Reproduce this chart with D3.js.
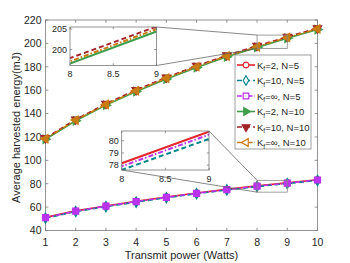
<!DOCTYPE html>
<html>
<head>
<meta charset="utf-8">
<script src="https://cdn.jsdelivr.net/npm/d3@7"></script>
<style>
  body { margin: 0; background: #fff; }
  text { font-family: "Liberation Sans", Arial, sans-serif; fill: #262626; }
</style>
</head>
<body>
<div id="chart"></div>
<script>
// data
var power = [1, 2, 3, 4, 5, 6, 7, 8, 9, 10];
var kf2_n5   = [51.2, 56.8, 61.0, 64.9, 68.6, 72.0, 75.2, 78.15, 80.75, 83.4];
var kf10_n5  = [50.6, 56.2, 60.4, 64.3, 68.0, 71.5, 74.7, 77.6, 80.15, 82.8];
var kfinf_n5 = [51.0, 56.6, 60.8, 64.7, 68.4, 71.8, 75.0, 77.9, 80.5, 83.2];
var kf2_n10   = [118.0, 133.8, 147.2, 158.9, 169.5, 179.4, 188.5, 196.6, 204.4, 211.8];
var kf10_n10  = [119.0, 135.0, 148.4, 160.2, 170.9, 180.8, 189.8, 197.9, 205.6, 213.0];
var kfinf_n10 = [118.5, 134.4, 147.8, 159.5, 170.2, 180.1, 189.2, 197.1, 205.0, 212.4];
var xTicks = [1, 2, 3, 4, 5, 6, 7, 8, 9, 10];
var yTicks = [40, 60, 80, 100, 120, 140, 160, 180, 200, 220];

var series = [
  {sub: "f", label: "=2, N=5",    values: kf2_n5,    color: "#e3262b", dash: null,        sym: d3.symbolCircle,   rot: 0,   size: 30, fill: true},
  {sub: "f", label: "=10, N=5",   values: kf10_n5,   color: "#00868a", dash: "5,3",       sym: d3.symbolDiamond,  rot: 0,   size: 30, fill: true},
  {sub: "f", label: "=\u221e, N=5", values: kfinf_n5, color: "#bb33ee", dash: "5,2,1.5,2", sym: d3.symbolSquare,   rot: 0,   size: 36, fill: true},
  {sub: "f", label: "=2, N=10",   values: kf2_n10,   color: "#3f9e4b", dash: null,        sym: d3.symbolTriangle, rot: 90,  size: 30, fill: true},
  {sub: "f", label: "=10, N=10",  values: kf10_n10,  color: "#a3232b", dash: "5,3",       sym: d3.symbolTriangle, rot: 180, size: 30, fill: true},
  {sub: "f", label: "=\u221e, N=10", values: kfinf_n10, color: "#c97c12", dash: "5,2,1.5,2", sym: d3.symbolTriangle, rot: -90, size: 30, fill: true}
];

var width = 350, height = 263;
var svg = d3.select("#chart").append("svg")
  .attr("width", width)
  .attr("height", height);

var x = d3.scaleLinear().domain([1, 10]).range([45.5, 317.5]);
var y = d3.scaleLinear().domain([40, 220]).range([230.5, 20]);

var boxColor = "#7a7a7a";

// axes box
svg.append("rect")
  .attr("x", x(1)).attr("y", y(220))
  .attr("width", x(10) - x(1)).attr("height", y(40) - y(220))
  .attr("fill", "none").attr("stroke", boxColor).attr("stroke-width", 0.8);

// ticks (inside, on all four sides)
function drawTicks(g, xs, ys, xt, yt, len) {
  var x0 = xs.range()[0], x1 = xs.range()[1], y0 = ys.range()[0], y1 = ys.range()[1];
  xt.forEach(function(t) {
    g.append("line").attr("x1", xs(t)).attr("x2", xs(t)).attr("y1", y0).attr("y2", y0 - len)
      .attr("stroke", boxColor).attr("stroke-width", 0.8);
    g.append("line").attr("x1", xs(t)).attr("x2", xs(t)).attr("y1", y1).attr("y2", y1 + len)
      .attr("stroke", boxColor).attr("stroke-width", 0.8);
  });
  yt.forEach(function(t) {
    g.append("line").attr("x1", x0).attr("x2", x0 + len).attr("y1", ys(t)).attr("y2", ys(t))
      .attr("stroke", boxColor).attr("stroke-width", 0.8);
    g.append("line").attr("x1", x1).attr("x2", x1 - len).attr("y1", ys(t)).attr("y2", ys(t))
      .attr("stroke", boxColor).attr("stroke-width", 0.8);
  });
}
drawTicks(svg, x, y, xTicks, yTicks, 2.8);

svg.selectAll(".xlab").data(xTicks).enter().append("text")
  .attr("x", function(d) { return x(d); })
  .attr("y", 246)
  .attr("text-anchor", "middle")
  .style("font-size", "10.5px")
  .text(function(d) { return d; });

svg.selectAll(".ylab").data(yTicks).enter().append("text")
  .attr("x", 41.5)
  .attr("y", function(d) { return y(d) + 3.8; })
  .attr("text-anchor", "end")
  .style("font-size", "10.5px")
  .text(function(d) { return d; });

svg.append("text")
  .attr("x", 181.5).attr("y", 258.5)
  .attr("text-anchor", "middle")
  .style("font-size", "11px")
  .text("Transmit power (Watts)");

svg.append("text")
  .attr("transform", "translate(19.5,127.5) rotate(-90)")
  .attr("text-anchor", "middle")
  .style("font-size", "11px")
  .text("Average harvested energy(mJ)");

// main lines and markers
function drawSeries(g, xs, ys, s, withMarkers, lw) {
  var line = d3.line()
    .x(function(d, i) { return xs(power[i]); })
    .y(function(d) { return ys(d); });
  g.append("path")
    .datum(s.values)
    .attr("fill", "none")
    .attr("stroke", s.color)
    .attr("stroke-width", lw)
    .attr("stroke-dasharray", s.dash)
    .attr("d", line);
  if (withMarkers) {
    g.selectAll(null).data(s.values).enter().append("path")
      .attr("d", d3.symbol().type(s.sym).size(s.size))
      .attr("transform", function(d, i) {
        return "translate(" + xs(power[i]) + "," + ys(d) + ") rotate(" + s.rot + ")";
      })
      .attr("fill", s.color)
      .attr("stroke", s.color)
      .attr("stroke-width", 1.2);
  }
}
series.forEach(function(s) { drawSeries(svg, x, y, s, true, 1.6); });

// zoom rectangles on the main plot
var zoomUp = {x0: 8, x1: 9, y0: 195.6, y1: 207.1};
var zoomLo = {x0: 8, x1: 9, y0: 72.8, y1: 82.9};
[zoomUp, zoomLo].forEach(function(r) {
  svg.append("rect")
    .attr("x", x(r.x0)).attr("y", y(r.y1))
    .attr("width", x(r.x1) - x(r.x0)).attr("height", y(r.y0) - y(r.y1))
    .attr("fill", "none").attr("stroke", "#888").attr("stroke-width", 0.8);
});

// insets
function inset(id, xr, yr, yDomain, yt, sel) {
  var ix = d3.scaleLinear().domain([8, 9]).range(xr);
  var iy = d3.scaleLinear().domain(yDomain).range(yr);
  var g = svg.append("g");
  g.append("rect")
    .attr("x", xr[0]).attr("y", yr[1])
    .attr("width", xr[1] - xr[0]).attr("height", yr[0] - yr[1])
    .attr("fill", "#fff");
  g.append("clipPath").attr("id", id).append("rect")
    .attr("x", xr[0]).attr("y", yr[1])
    .attr("width", xr[1] - xr[0]).attr("height", yr[0] - yr[1]);
  var inner = g.append("g").attr("clip-path", "url(#" + id + ")");
  sel.forEach(function(s) { drawSeries(inner, ix, iy, s, false, 2); });
  g.append("rect")
    .attr("x", xr[0]).attr("y", yr[1])
    .attr("width", xr[1] - xr[0]).attr("height", yr[0] - yr[1])
    .attr("fill", "none").attr("stroke", boxColor).attr("stroke-width", 0.8);
  drawTicks(g, ix, iy, [8, 8.5, 9], yt, 2.2);
  [8, 8.5, 9].forEach(function(t) {
    g.append("text").attr("x", ix(t)).attr("y", yr[0] + 11.5)
      .attr("text-anchor", "middle").style("font-size", "9px").text(t);
  });
  yt.forEach(function(t) {
    g.append("text").attr("x", xr[0] - 3).attr("y", iy(t) + 3.2)
      .attr("text-anchor", "end").style("font-size", "9px").text(t);
  });
  return {ix: ix, iy: iy};
}

var in1 = inset("clipUp", [70, 156.5], [65.5, 27], [196.1, 205.5], [200, 205], series.slice(3));
var in2 = inset("clipLo", [121.7, 209], [170, 131], [77.6, 80.8], [78, 79, 80], series.slice(0, 3));

// connector lines
function connector(x1, y1, x2, y2) {
  svg.append("line").attr("x1", x1).attr("y1", y1).attr("x2", x2).attr("y2", y2)
    .attr("stroke", "#555").attr("stroke-width", 0.7);
}
connector(156.5, 27, x(zoomUp.x0), y(zoomUp.y1));
connector(156.5, 65.5, x(zoomUp.x0), y(zoomUp.y0));
connector(209, 131, x(zoomLo.x0), y(zoomLo.y1));
connector(121.7, 170, x(zoomLo.x0), y(zoomLo.y0));

// legend
var lg = svg.append("g");
lg.append("rect")
  .attr("x", 235).attr("y", 55).attr("width", 76).attr("height", 94)
  .attr("fill", "#fff").attr("stroke", "#888").attr("stroke-width", 0.8);
series.forEach(function(s, i) {
  var ly = 65 + i * 15.5;
  lg.append("line").attr("x1", 237).attr("x2", 255).attr("y1", ly).attr("y2", ly)
    .attr("stroke", s.color).attr("stroke-width", 1.6).attr("stroke-dasharray", s.dash);
  lg.append("path")
    .attr("d", d3.symbol().type(s.sym).size(s.size - 4))
    .attr("transform", "translate(246," + ly + ") rotate(" + s.rot + ")")
    .attr("fill", i >= 3 && i < 5 ? s.color : "#fff")
    .attr("stroke", s.color).attr("stroke-width", 1.2);
  var t = lg.append("text").attr("x", 257).attr("y", ly + 3.5).style("font-size", "9.5px");
  t.append("tspan").text("K");
  t.append("tspan").attr("dy", 2.5).style("font-size", "6.5px").text(s.sub);
  t.append("tspan").attr("dy", -2.5).text(s.label);
});
</script>
</body>
</html>
